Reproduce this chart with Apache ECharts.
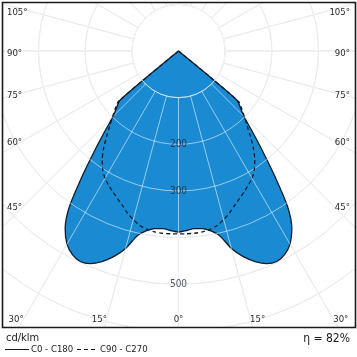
<!DOCTYPE html>
<html><head><meta charset="utf-8">
<script src="https://cdn.jsdelivr.net/npm/echarts@6/dist/echarts.min.js"></script>
<style>html,body{margin:0;padding:0;background:#fff}#c{width:357px;height:357px}</style>
</head><body><div id="c"></div>
<script>
// ---- data (cd/klm) ----
const gammaAngles = [0,2.5,5,7.5,10,12.5,15,17.5,20,22.5,25,27.5,30,32.5,35,37.5,40,42.5,45,47.5,50,52.5];
const intensityC0C180 = [388,385,382,384,391,405,438,462,480,493,498,492,478,452,408,340,281,234,198,180,163,0];
const intensityC90C270 = [392,392,392,391,388,383,374,364,352,342,333,324,315,302,285,264,240,218,200,184,168,0];
const ringLabelValues = [200,300,500];
const sideAngleLabels = [105,90,75,60,45];
const bottomAngleLabels = [30,15,0];
const unitText = 'cd/klm';
const seriesNames = ['C0 - C180','C90 - C270'];
const efficiencyText = 'η = 82%';

// ---- geometry ----
const W = 357, H = 357;
const cx = 178.5, cy = 51;
const pxPer100 = 46.67;
const rMaxVal = 700;
const rOuter = pxPer100 * rMaxVal / 100;
const rInner = pxPer100;
const frame = {x:2.5, y:2.5, w:353, h:325};
const FONT = '"Liberation Sans Narrow","DejaVu Sans Condensed","Liberation Sans",Arial,sans-serif';

function curve(vals){
  const pts = [];
  for (let i = vals.length-1; i >= 0; i--) pts.push([vals[i], gammaAngles[i]]);
  for (let i = 1; i < vals.length; i++) pts.push([vals[i], 360 - gammaAngles[i]]);
  return pts;
}

const chart = echarts.init(document.getElementById('c'), null, {renderer:'canvas'});

const gridGray = '#d6d6d6';
const gridWhite = 'rgba(255,255,255,0.55)';

function gridAngle(idx, color, z){
  return {polarIndex: idx, type:'value', min:0, max:360, interval:15, startAngle:270, clockwise:true, z:z,
    axisLine:{show:true, lineStyle:{color:color, width:1}}, axisTick:{show:false}, axisLabel:{show:false},
    splitLine:{show:true, lineStyle:{color:color, width:1}}, splitArea:{show:false}};
}
function gridRadius(idx, color, z){
  return {polarIndex: idx, type:'value', min:100, max:rMaxVal, interval:100, z:z,
    axisLine:{show:false}, axisTick:{show:false}, axisLabel:{show:false},
    splitLine:{show:true, lineStyle:{color:color, width:1}}, splitArea:{show:false}};
}

const graphics = [];
// masks outside frame
graphics.push({type:'rect', z:50, shape:{x:0,y:frame.y+frame.h,width:W,height:H}, style:{fill:'#fff'}, silent:true});
graphics.push({type:'rect', z:50, shape:{x:0,y:0,width:W,height:frame.y}, style:{fill:'#fff'}, silent:true});
graphics.push({type:'rect', z:50, shape:{x:0,y:0,width:frame.x,height:H}, style:{fill:'#fff'}, silent:true});
graphics.push({type:'rect', z:50, shape:{x:frame.x+frame.w,y:0,width:W,height:H}, style:{fill:'#fff'}, silent:true});
graphics.push({type:'rect', z:51, shape:{x:frame.x,y:frame.y,width:frame.w,height:frame.h}, style:{fill:null, stroke:'#1a1a1a', lineWidth:1.6}, silent:true});

const labColor = '#2a2a2a';
sideAngleLabels.forEach(a => {
  const t = a * Math.PI/180;
  const y = cy + (cx - 25) * Math.cos(t)/Math.sin(t) + 3;
  graphics.push({type:'text', z:60, x:7, y:y, style:{text:a+'°', font:'9.5px '+FONT, fill:labColor, textAlign:'left', textVerticalAlign:'middle'}});
  graphics.push({type:'text', z:60, x:W-7, y:y, style:{text:a+'°', font:'9.5px '+FONT, fill:labColor, textAlign:'right', textVerticalAlign:'middle'}});
});
bottomAngleLabels.forEach(a => {
  const t = a * Math.PI/180;
  const d = a === 0 ? 0 : (320 - cy) * Math.tan(t) + 7;
  graphics.push({type:'text', z:60, x:cx - d, y:320, style:{text:a+'°', font:'9.5px '+FONT, fill:labColor, textAlign:'center', textVerticalAlign:'middle'}});
  if (a !== 0) graphics.push({type:'text', z:60, x:cx + d, y:320, style:{text:a+'°', font:'9.5px '+FONT, fill:labColor, textAlign:'center', textVerticalAlign:'middle'}});
});
// legend
graphics.push({type:'text', z:60, x:6, y:338, style:{text:unitText, font:'11px '+FONT, fill:'#1a1a1a', textAlign:'left', textVerticalAlign:'middle'}});
graphics.push({type:'line', z:60, shape:{x1:5,y1:349.5,x2:29,y2:349.5}, style:{stroke:'#1a1a1a', lineWidth:1}});
graphics.push({type:'text', z:60, x:31, y:349.5, style:{text:seriesNames[0], font:'9.5px '+FONT, fill:'#1a1a1a', textAlign:'left', textVerticalAlign:'middle'}});
graphics.push({type:'line', z:60, shape:{x1:77,y1:349.5,x2:98,y2:349.5}, style:{stroke:'#1a1a1a', lineWidth:1, lineDash:[4,3]}});
graphics.push({type:'text', z:60, x:100, y:349.5, style:{text:seriesNames[1], font:'9.5px '+FONT, fill:'#1a1a1a', textAlign:'left', textVerticalAlign:'middle'}});
graphics.push({type:'text', z:60, x:350, y:339, style:{text:efficiencyText, font:'12px '+FONT, fill:'#1a1a1a', textAlign:'right', textVerticalAlign:'middle'}});

chart.setOption({
  animation:false,
  backgroundColor:'#fff',
  polar:[
    {center:[cx,cy], radius:[0, rOuter]},
    {center:[cx,cy], radius:[rInner, rOuter]},
    {center:[cx,cy], radius:[rInner, rOuter]}
  ],
  angleAxis:[
    {polarIndex:0, type:'value', min:0, max:360, startAngle:270, clockwise:true, show:false},
    gridAngle(1, gridGray, 0),
    gridAngle(2, gridWhite, 3)
  ],
  radiusAxis:[
    {polarIndex:0, type:'value', min:0, max:rMaxVal, show:false},
    gridRadius(1, gridGray, 0),
    gridRadius(2, gridWhite, 3)
  ],
  graphic:{elements:graphics},
  series:[
    {type:'line', name:seriesNames[0], coordinateSystem:'polar', polarIndex:0, data:curve(intensityC0C180),
     smooth:0.25, symbol:'none', clip:false, z:2,
     lineStyle:{color:'#0e1c2b', width:1.3}, areaStyle:{color:'#1a8bd2', opacity:1}},
    {type:'line', name:seriesNames[1], coordinateSystem:'polar', polarIndex:0, data:curve(intensityC90C270),
     smooth:0.25, symbol:'none', clip:false, z:4,
     lineStyle:{color:'#0e1c2b', width:1.3, type:[4,3]}},
    {type:'scatter', coordinateSystem:'polar', polarIndex:0, data:ringLabelValues.map(v => [v, 0]),
     symbolSize:0, z:6, silent:true,
     label:{show:true, position:'inside', formatter:p => String(p.value[0]), fontFamily:FONT, fontSize:10, color:'#1d2733'}}
  ]
});
</script></body></html>
